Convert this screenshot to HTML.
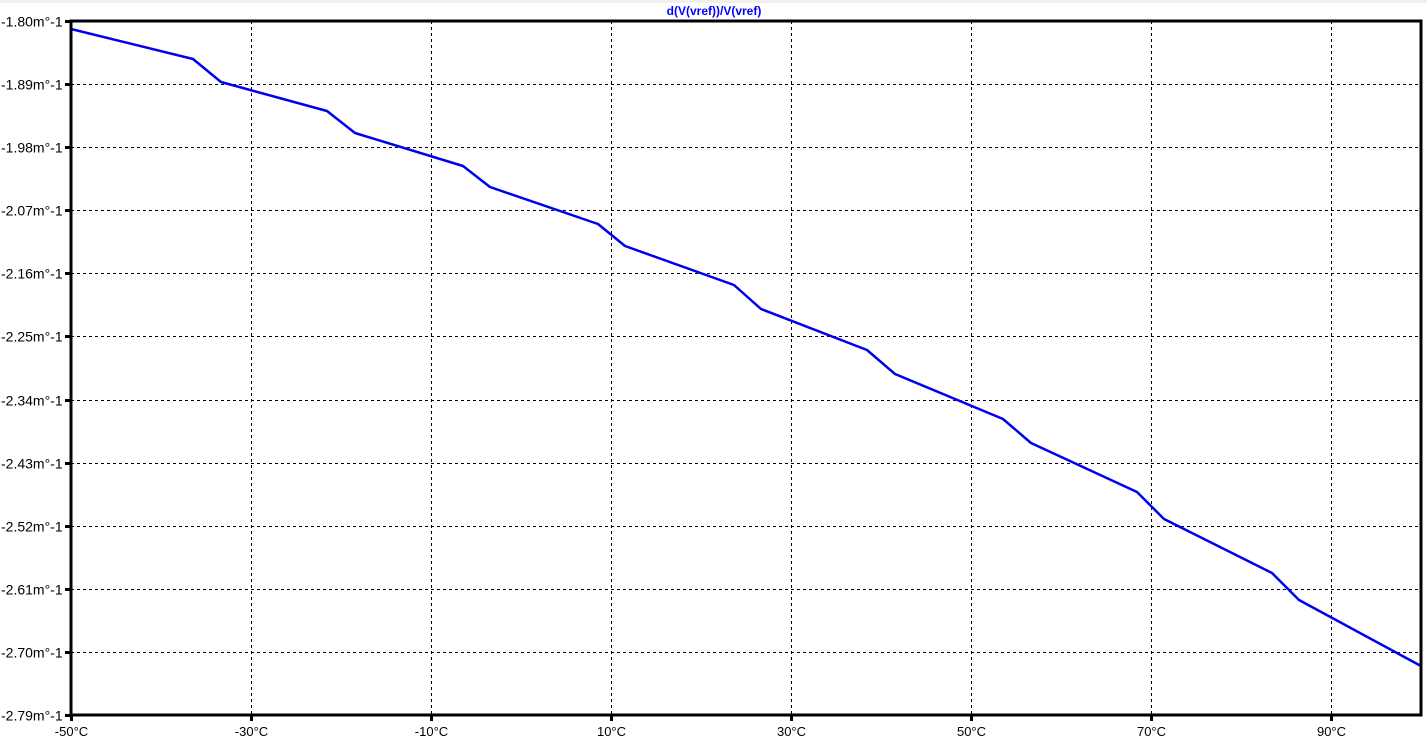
<!DOCTYPE html>
<html><head><meta charset="utf-8"><style>
html,body{margin:0;padding:0;background:#fff;width:1427px;height:739px;overflow:hidden}
svg{display:block;font-family:"Liberation Sans",Arial,sans-serif}
</style></head><body>
<svg id="chart" width="1427" height="739">
<rect x="0" y="0" width="1427" height="3" fill="#f0f0f0"/>
<text x="714" y="15" font-size="12" font-weight="bold" fill="#0000ff" text-anchor="middle">d(V(vref))/V(vref)</text>
<g id="grid"></g>
<g id="ticks"></g>
<polyline id="trace" fill="none" stroke="#0000ee" stroke-width="2.5" stroke-linejoin="round"/>
<rect x="71" y="21" width="1350" height="694" fill="none" stroke="#000" stroke-width="3"/>
</svg>
<script>
const xTicks=[-50,-30,-10,10,30,50,70,90];
const xTickLabels=["-50°C","-30°C","-10°C","10°C","30°C","50°C","70°C","90°C"];
const yTicks=[-1.80,-1.89,-1.98,-2.07,-2.16,-2.25,-2.34,-2.43,-2.52,-2.61,-2.70,-2.79];
const yTickLabels=["-1.80m°-1","-1.89m°-1","-1.98m°-1","-2.07m°-1","-2.16m°-1","-2.25m°-1","-2.34m°-1","-2.43m°-1","-2.52m°-1","-2.61m°-1","-2.70m°-1","-2.79m°-1"];
const temps=[-50,-36.44,-33.33,-21.56,-18.44,-6.44,-3.44,8.56,11.56,23.67,26.67,38.44,41.56,53.56,56.67,68.44,71.44,83.44,86.44,100];
const values=[-1.8114,-1.8542,-1.8870,-1.9284,-1.9598,-2.0068,-2.0368,-2.0896,-2.1210,-2.1766,-2.2109,-2.2693,-2.3036,-2.3678,-2.4020,-2.4719,-2.5104,-2.5874,-2.6260,-2.7201];

const X0=71,X1=1421,Y0=21,Y1=715;
const xs=t=>X0+(t+50)/150*(X1-X0);
const ys=v=>Y0+(-1.80-v)/0.99*(Y1-Y0);
const NS="http://www.w3.org/2000/svg";
const grid=document.getElementById('grid'),ticks=document.getElementById('ticks');
function mk(tag,attrs,parent){const e=document.createElementNS(NS,tag);for(const k in attrs)e.setAttribute(k,attrs[k]);parent.appendChild(e);return e;}
xTicks.forEach((t,i)=>{
  const x=Math.round(xs(t))+0.5;
  if(i>0){const l=mk('line',{x1:x,x2:x,y1:Y0,y2:Y1,stroke:'#000','stroke-width':1,'stroke-dasharray':'3,3'},grid);
  
  }
  const tk=mk('line',{x1:x,x2:x,y1:Y1,y2:Y1+6,stroke:'#000','stroke-width':3},ticks);
  
  
  const tx=mk('text',{x:x,y:736,'font-size':13,'text-anchor':'middle',fill:'#000'},ticks);
  tx.textContent=xTickLabels[i];
  
  
});
yTicks.forEach((v,i)=>{
  const y=Math.round(ys(v))+0.5;
  if(i>0&&i<yTicks.length-1){const l=mk('line',{x1:X0,x2:X1,y1:y,y2:y,stroke:'#000','stroke-width':1,'stroke-dasharray':'3,3'},grid);
  
  }
  const tk=mk('line',{x1:X0-6,x2:X0,y1:y,y2:y,stroke:'#000','stroke-width':3},ticks);
  
  
  const tx=mk('text',{x:1,y:y+5,'font-size':14,fill:'#000'},ticks);
  tx.textContent=yTickLabels[i];
  
  
});
document.getElementById('trace').setAttribute('points',temps.map((t,i)=>xs(t).toFixed(1)+','+ys(values[i]).toFixed(1)).join(' '));
</script>
</body></html>
